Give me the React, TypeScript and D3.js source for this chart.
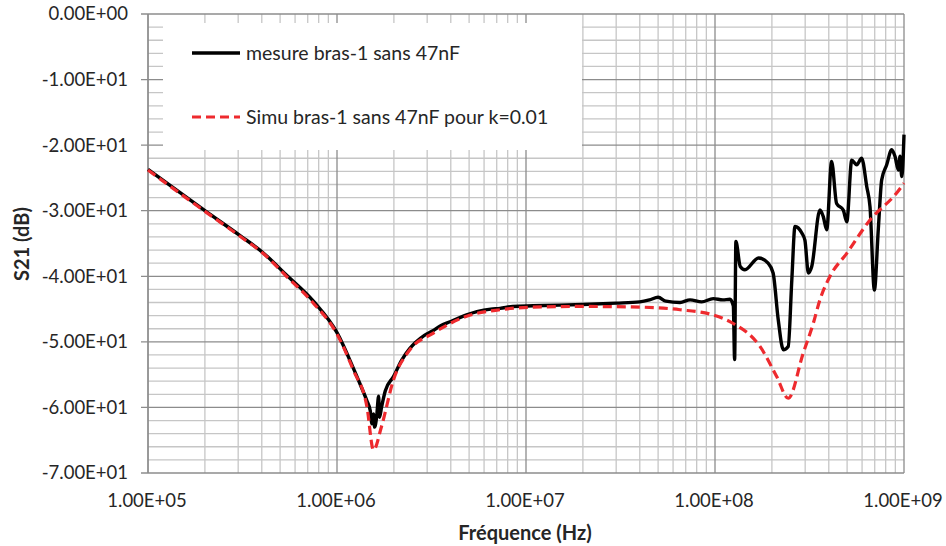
import React from "react";
import * as d3 from "d3";

const measFreq = [
  1e5, 2e5, 3.07e5, 4.06e5, 5.4e5, 7.5e5, 1.0e6, 1.22e6, 1.35e6, 1.44e6, 1.5e6, 1.53e6, 1.56e6, 1.58e6,
  1.62e6, 1.66e6, 1.68e6, 1.72e6, 1.8e6, 1.99e6, 2.2e6, 2.43e6, 2.6e6, 2.9e6, 3.22e6, 3.5e6, 4e6, 4.85e6,
  5.5e6, 6.5e6, 7.28e6, 8.5e6, 1.09e7, 1.5e7, 2e7, 3e7, 4e7, 4.5e7, 5e7, 5.5e7, 6.53e7, 7.38e7, 8.5e7,
  9.79e7, 1.1e8, 1.2e8, 1.25e8, 1.27e8, 1.29e8, 1.36e8, 1.44e8, 1.7e8, 1.91e8, 2.03e8, 2.16e8, 2.3e8,
  2.44e8, 2.55e8, 2.65e8, 2.88e8, 2.99e8, 3.12e8, 3.25e8, 3.59e8, 3.74e8, 3.9e8, 4.14e8, 4.4e8, 4.77e8,
  4.98e8, 5.29e8, 5.62e8, 5.97e8, 6.35e8, 6.61e8, 6.97e8, 7.31e8, 7.62e8, 8.1e8, 8.61e8, 8.96e8, 9.34e8,
  9.53e8, 9.73e8, 9.9e8, 1e9,
];
const measDb = [
  -23.7, -30.0, -33.8, -36.4, -39.8, -43.8, -48.6, -54.0, -57.0, -59.0, -60.5, -62.5, -61.0, -63.0,
  -61.5, -58.3, -61.5, -60.0, -57.5, -55.3, -52.8, -51.0, -50.1, -49.0, -48.3, -47.6, -46.9, -45.9,
  -45.4, -45.0, -44.9, -44.6, -44.5, -44.4, -44.3, -44.1, -43.9, -43.6, -43.2, -43.8, -44.0, -43.6, -43.9,
  -43.4, -43.6, -43.5, -44.5, -52.7, -34.7, -38.5, -39.0, -37.2, -38.0, -39.5, -46.6, -51.2,
  -50.7, -40.5, -32.4, -33.4, -34.5, -39.5, -38.5, -29.9, -30.9, -32.9, -22.5, -28.9, -29.9,
  -31.7, -22.3, -23.0, -22.0, -26.3, -29.4, -42.1, -32.9, -25.3, -23.0, -20.7, -21.7, -23.8,
  -21.7, -24.8, -22.0, -18.4,
];

const simFreq = [
  1e5, 2e5, 3.07e5, 4.06e5, 5.4e5, 7.5e5, 1.0e6, 1.22e6, 1.44e6, 1.56e6, 1.72e6, 1.99e6, 2.43e6, 3.22e6,
  4.85e6, 7.28e6, 1.09e7, 2e7, 4e7, 6.53e7, 9.8e7, 1.25e8, 1.73e8, 2.12e8, 2.44e8, 2.93e8, 3.31e8, 3.59e8,
  4.06e8, 4.98e8, 6.61e8, 9.14e8, 1e9,
];
const simDb = [
  -23.8, -30.1, -33.9, -36.5, -40.0, -44.1, -48.8, -54.3, -59.9, -66.5, -62.9, -55.8, -51.2, -48.7,
  -46.1, -45.1, -44.7, -44.6, -44.7, -45.1, -45.9, -47.2, -50.7, -55.3, -58.6, -51.7, -47.2, -43.6,
  -40.0, -36.5, -31.4, -27.3, -25.8,
];

const xTickValues = [1e5, 1e6, 1e7, 1e8, 1e9];
const xTickLabels = ["1.00E+05", "1.00E+06", "1.00E+07", "1.00E+08", "1.00E+09"];
const yTickValues = [0, -10, -20, -30, -40, -50, -60, -70];
const yTickLabels = ["0.00E+00", "-1.00E+01", "-2.00E+01", "-3.00E+01", "-4.00E+01", "-5.00E+01", "-6.00E+01", "-7.00E+01"];
const seriesNames = ["mesure bras-1 sans 47nF", "Simu bras-1 sans 47nF pour k=0.01"];

const W = 946, H = 546;
const L = 148, R = 904, T = 14, B = 473;
const FONT = "Lato, 'Open Sans', sans-serif";

export default function App() {
  const x = d3.scaleLog().domain([1e5, 1e9]).range([L, R]);
  const y = d3.scaleLinear().domain([-70, 0]).range([B, T]);

  const minorX: number[] = [];
  for (let e = 5; e < 9; e++) for (let m = 2; m <= 9; m++) minorX.push(m * Math.pow(10, e));
  const minorY: number[] = [];
  for (let v = -70; v <= 0; v += 2) if (v % 10 !== 0) minorY.push(v);

  const line = d3.line<[number, number]>().x(d => x(d[0])).y(d => y(d[1])).curve(d3.curveMonotoneX);
  const measPath = line(measFreq.map((f, i) => [f, measDb[i]] as [number, number])) || "";
  const simPath = line(simFreq.map((f, i) => [f, simDb[i]] as [number, number])) || "";

  const minorColor = "#c6c6c6";
  const majorColor = "#8c8c8c";
  const textColor = "#262626";

  return (
    <svg width={W} height={H} style={{ position: "absolute", left: 0, top: 0, background: "#fff" }} fontFamily={FONT}>
      <rect x={0} y={0} width={W} height={H} fill="#fff" />
      {minorX.map((v, i) => (
        <line key={"mx" + i} x1={x(v)} x2={x(v)} y1={T} y2={B} stroke={minorColor} strokeWidth={1.3} />
      ))}
      {minorY.map((v, i) => (
        <line key={"my" + i} x1={L} x2={R} y1={y(v)} y2={y(v)} stroke={minorColor} strokeWidth={1.3} />
      ))}
      {xTickValues.map((v, i) => (
        <line key={"Mx" + i} x1={x(v)} x2={x(v)} y1={T} y2={B} stroke={majorColor} strokeWidth={1.3} />
      ))}
      {yTickValues.map((v, i) => (
        <line key={"My" + i} x1={L - 7} x2={R} y1={y(v)} y2={y(v)} stroke={majorColor} strokeWidth={1.3} />
      ))}
      <line x1={L} x2={L} y1={T} y2={B} stroke={majorColor} strokeWidth={1.3} />

      <rect x={163} y={23} width={419} height={127} fill="#fff" />

      <path d={measPath} fill="none" stroke="#000" strokeWidth={3.4} strokeLinejoin="round" />
      <path d={simPath} fill="none" stroke="#ee2a2e" strokeWidth={3.2} strokeDasharray="9,5" />

      <line x1={192} x2={240} y1={53} y2={53} stroke="#000" strokeWidth={3.4} />
      <text x={246} y={53} dy="0.35em" fontSize={19.5} fill={textColor}>{seriesNames[0]}</text>
      <line x1={192} x2={240} y1={117} y2={117} stroke="#ee2a2e" strokeWidth={3.2} strokeDasharray="9,5" />
      <text x={246} y={117} dy="0.35em" fontSize={19.5} fill={textColor}>{seriesNames[1]}</text>

      {yTickValues.map((v, i) => (
        <text key={"yl" + i} x={128} y={y(v)} dy="0.35em" textAnchor="end" fontSize={18.5} fill={textColor}>
          {yTickLabels[i]}
        </text>
      ))}
      {xTickValues.map((v, i) => (
        <text key={"xl" + i} x={x(v) - 1} y={501} dy="0.35em" textAnchor="middle" fontSize={18.5} fill={textColor}>
          {xTickLabels[i]}
        </text>
      ))}
      <text x={525} y={533} dy="0.35em" textAnchor="middle" fontSize={20} fontWeight="bold" fill={textColor}>
        Fréquence (Hz)
      </text>
      <text transform="translate(22,244) rotate(-90)" dy="0.35em" textAnchor="middle" fontSize={20} fontWeight="bold" fill={textColor}>
        S21 (dB)
      </text>
    </svg>
  );
}
